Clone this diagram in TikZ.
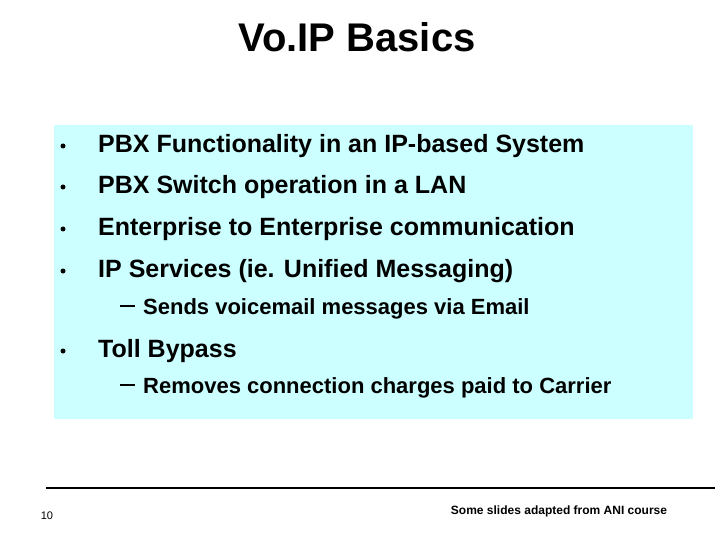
\documentclass[tikz,border=0pt]{standalone}
\usepackage{fontspec}
\setmainfont{Liberation Sans}
\definecolor{boxc}{HTML}{CCFFFF}
\begin{document}
\begin{tikzpicture}[x=1pt,y=-1pt,
  item/.style={anchor=west,font=\bfseries\fontsize{25}{28}\selectfont,inner sep=0pt},
  sub/.style={anchor=west,font=\bfseries\fontsize{22}{25}\selectfont,inner sep=0pt},
  dot/.style={circle,fill=black,inner sep=0pt,minimum size=5pt}]
\useasboundingbox (0,0) rectangle (720,540);
\fill[white] (0,0) rectangle (720,540);
\node[font=\bfseries\fontsize{40}{44}\selectfont] (title) at (357,37) {Vo.IP Basics};
\fill[boxc] (54,125) rectangle (693,419);
\foreach \n/\y/\t in {a/146/PBX Functionality in an IP-based System,
  b/187/PBX Switch operation in a LAN,
  c/229/Enterprise to Enterprise communication,
  d/271/IP Services (ie. Unified Messaging),
  e/351/Toll Bypass}{
  \node[dot] (d\n) at (63,\y) {};
  \node[item] (t\n) at (98,\y) {\t};
}
\node[sub] (s1) at (143,309) {Sends voicemail messages via Email};
\node[sub] (s2) at (143,388) {Removes connection charges paid to Carrier};
\draw[line width=1.8pt] (120,306) -- (135,306) (120,385) -- (135,385);
\draw[line width=2.5pt] (46,488) -- (715,488);
\node[font=\fontsize{11}{13}\selectfont] (num) at (47,516) {10};
\node[font=\bfseries\fontsize{12}{14}\selectfont] (foot) at (559,511) {Some slides adapted from ANI course};
\end{tikzpicture}
\end{document}
